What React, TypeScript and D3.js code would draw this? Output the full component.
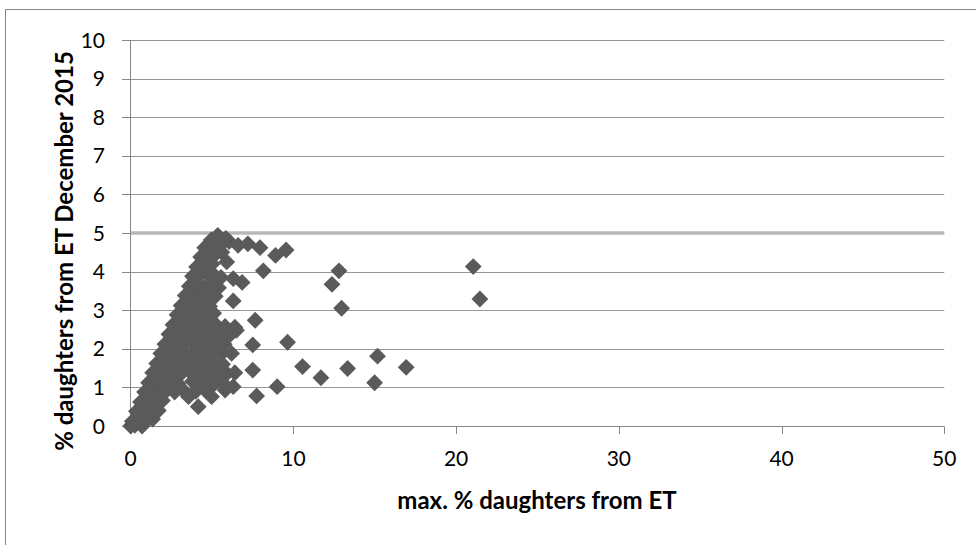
import React from 'react';
import * as d3 from 'd3';

// main cluster of bulls: [max % daughters from ET, % daughters Dec 2015]
const clusterPoints: [number, number][] = [
  [0, 0], [0.25, 0.02], [0.7, 0.0],
  [0.1, 0.12], [0.5, 0.16], [0.9, 0.12], [1.35, 0.18],
  [0.35, 0.38], [0.8, 0.42], [1.25, 0.36], [1.7, 0.4], [4.15, 0.5],
  [0.6, 0.62], [1.05, 0.66], [1.5, 0.6], [1.95, 0.66], [3.55, 0.76], [4.97, 0.76],
  [0.85, 0.88], [1.3, 0.92], [1.75, 0.86], [2.2, 0.92], [2.7, 0.88], [3.2, 0.94], [4.0, 0.9], [4.5, 0.96], [5.8, 0.93], [7.74, 0.78],
  [1.1, 1.12], [1.55, 1.16], [2.0, 1.1], [2.45, 1.16], [2.9, 1.1], [3.8, 1.16], [4.25, 1.1], [4.7, 1.16], [5.15, 1.1], [5.6, 1.14], [6.3, 1.02],
  [1.35, 1.38], [1.8, 1.42], [2.25, 1.36], [2.7, 1.42], [3.15, 1.38], [3.6, 1.42], [4.05, 1.36], [4.5, 1.4], [4.95, 1.36], [5.4, 1.42], [5.9, 1.36], [6.4, 1.38], [7.5, 1.45],
  [1.6, 1.62], [2.05, 1.66], [2.5, 1.6], [2.95, 1.68], [3.4, 1.62], [3.85, 1.66], [4.3, 1.6], [4.75, 1.68], [5.2, 1.62], [5.65, 1.6],
  [1.85, 1.88], [2.3, 1.92], [2.75, 1.86], [3.3, 1.9], [3.75, 1.86], [4.2, 1.92], [4.65, 1.86], [5.1, 1.94], [5.6, 1.88], [6.2, 1.88],
  [2.1, 2.12], [2.55, 2.16], [3.0, 2.1], [3.45, 2.18], [3.9, 2.12], [4.35, 2.16], [4.8, 2.1], [5.3, 2.18], [5.75, 2.12], [7.5, 2.1],
  [2.35, 2.38], [2.8, 2.42], [3.25, 2.36], [3.7, 2.42], [4.15, 2.38], [4.6, 2.44], [5.05, 2.36], [5.5, 2.4], [6.05, 2.34], [6.5, 2.48],
  [2.6, 2.62], [3.05, 2.66], [3.5, 2.6], [3.95, 2.68], [4.4, 2.62], [4.85, 2.66], [5.3, 2.6], [5.8, 2.58], [6.4, 2.56], [7.65, 2.74],
  [2.85, 2.88], [3.3, 2.92], [3.75, 2.86], [4.2, 2.9], [4.65, 2.84], [5.1, 2.92],
  [3.1, 3.12], [3.55, 3.16], [4.0, 3.1], [4.45, 3.18], [4.85, 3.1],
  [3.35, 3.38], [3.8, 3.42], [4.25, 3.35], [4.7, 3.4], [5.2, 3.36], [6.3, 3.24],
  [3.6, 3.62], [4.05, 3.66], [4.5, 3.6], [4.95, 3.65], [5.4, 3.58],
  [3.8, 3.88], [4.25, 3.92], [4.7, 3.95], [5.15, 3.9], [5.55, 3.85], [6.3, 3.82], [6.85, 3.72],
  [4.05, 4.12], [4.5, 4.18], [5.0, 4.2], [5.9, 4.25], [8.15, 4.02],
  [4.3, 4.38], [4.75, 4.42], [5.2, 4.45], [5.6, 4.5],
  [4.55, 4.62], [5.05, 4.68], [5.6, 4.72], [6.05, 4.78], [6.6, 4.68], [7.2, 4.72], [7.95, 4.62], [8.9, 4.42], [9.55, 4.56],
  [4.95, 4.82], [5.35, 4.94], [5.85, 4.86],
];

// bulls further out to the right
const outlierPoints: [number, number][] = [
  [9.64, 2.17], [9.0, 1.02], [10.56, 1.54], [11.69, 1.25], [12.37, 3.67], [12.8, 4.02],
  [12.96, 3.05], [13.33, 1.49], [14.99, 1.12], [15.17, 1.81], [16.93, 1.52],
  [21.05, 4.13], [21.46, 3.29],
];

const xTicks = [0, 10, 20, 30, 40, 50];
const yTicks = [0, 1, 2, 3, 4, 5, 6, 7, 8, 9, 10];
const limitValue = 5;

const FONT = 'Lato, "Open Sans", sans-serif';

export default function App() {
  const width = 976;
  const height = 545;

  const x = d3.scaleLinear().domain([0, 50]).range([130.7, 944.3]);
  const y = d3.scaleLinear().domain([0, 10]).range([426, 40]);

  // symbolDiamond2 is already a square turned 45deg
  const diamond = d3.symbol().type(d3.symbolDiamond2).size(180)();
  const points = [...clusterPoints, ...outlierPoints];

  return (
    <svg width={width} height={height}
      style={{ position: 'absolute', left: 0, top: 0, background: '#fff' }}>
      {/* chart area border */}
      <rect x={5.5} y={9.5} width={1000} height={1000} fill="none" stroke="#868686" />

      {/* gridlines */}
      {yTicks.filter(d => d > 0).map(d => (
        <line key={'g' + d} x1={x(0)} x2={x(50)} y1={Math.round(y(d)) + 0.5} y2={Math.round(y(d)) + 0.5}
          stroke="#969696" strokeWidth={1} />
      ))}

      {/* 5% limit line */}
      <line x1={x(0)} x2={x(50)} y1={y(limitValue)} y2={y(limitValue)} stroke="#b8b8b8" strokeWidth={3.5} />

      {/* y axis */}
      <line x1={130.5} x2={130.5} y1={y(10)} y2={y(0)} stroke="#868686" />
      {yTicks.map(d => (
        <g key={'y' + d}>
          <line x1={122} x2={130.5} y1={Math.round(y(d)) + 0.5} y2={Math.round(y(d)) + 0.5} stroke="#868686" />
          <text x={105} y={y(d)} dy="0.36em" textAnchor="end" fontFamily={FONT} fontSize={21} fill="#000">{d}</text>
        </g>
      ))}

      {/* x axis */}
      <line x1={x(0)} x2={x(50)} y1={426.5} y2={426.5} stroke="#868686" />
      {xTicks.map(d => (
        <g key={'x' + d}>
          <line x1={Math.round(x(d)) + 0.5} x2={Math.round(x(d)) + 0.5} y1={426.5} y2={434} stroke="#868686" />
          <text x={x(d)} y={466} textAnchor="middle" fontFamily={FONT} fontSize={21} fill="#000">{d}</text>
        </g>
      ))}

      {/* markers */}
      {points.map((p, i) => (
        <path key={i} d={diamond} transform={`translate(${x(p[0])},${y(p[1])})`}
          fill="#5a5a5a" />
      ))}

      {/* axis titles */}
      <text x={537} y={509} textAnchor="middle" fontFamily={FONT} fontWeight="bold" fontSize={24} fill="#000">
        max. % daughters from ET
      </text>
      <text transform="translate(73,251) rotate(-90)" textAnchor="middle" fontFamily={FONT} fontWeight="bold" fontSize={24} fill="#000">
        % daughters from ET December 2015
      </text>
    </svg>
  );
}
